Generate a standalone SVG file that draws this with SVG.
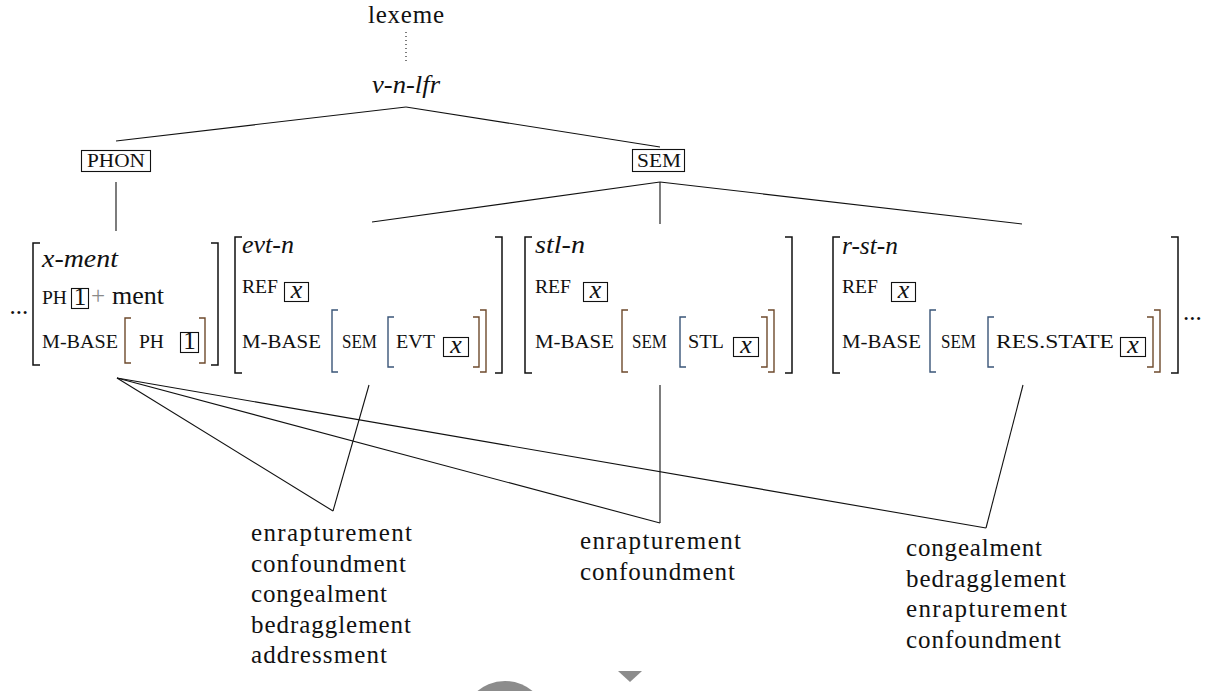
<svg xmlns="http://www.w3.org/2000/svg" width="1223" height="691" viewBox="0 0 1223 691">
<style>
text{font-family:"Liberation Serif","DejaVu Serif",serif;fill:#111}
.rm{font-size:25px}
.it{font-size:26px;font-style:italic}
.sc{font-size:18px}
.cap{font-size:19px}
.br{fill:none;stroke:#111;stroke-width:1.5}
.bb{fill:none;stroke:#3a5578;stroke-width:1.4}
.bn{fill:none;stroke:#6e4a2c;stroke-width:1.4}
.bx{fill:none;stroke:#111;stroke-width:1.1}
.ln{stroke:#111;stroke-width:1.1;fill:none}
.gr{fill:#8c8c8c}
</style>
<rect width="1223" height="691" fill="#fff"/>

<g id="connectors">
<line class="ln" x1="406" y1="32" x2="406" y2="64" stroke-dasharray="1 3"/>
<line class="ln" x1="406" y1="107" x2="116" y2="141"/>
<line class="ln" x1="406" y1="107" x2="660" y2="147"/>
<line class="ln" x1="116" y1="182" x2="116" y2="231"/>
<line class="ln" x1="660" y1="182" x2="372" y2="222"/>
<line class="ln" x1="660" y1="182" x2="660" y2="224"/>
<line class="ln" x1="660" y1="182" x2="1022" y2="224"/>
<line class="ln" x1="117" y1="378" x2="333" y2="511"/>
<line class="ln" x1="117" y1="378" x2="660" y2="523"/>
<line class="ln" x1="117" y1="378" x2="986" y2="528"/>
<line class="ln" x1="369" y1="385" x2="333" y2="511"/>
<line class="ln" x1="660" y1="385" x2="660" y2="523"/>
<line class="ln" x1="1023" y1="385" x2="986" y2="528"/>
</g>

<g id="lexeme"><text class="rm" x="368" y="23" textLength="76">lexeme</text></g>
<g id="v-n-lfr"><text class="rm" font-style="italic" x="372" y="93" textLength="68" lengthAdjust="spacingAndGlyphs">v-n-lfr</text></g>

<g id="phon">
<rect class="bx" x="81.5" y="150.5" width="69" height="21"/>
<text class="cap" x="87" y="167" textLength="58" lengthAdjust="spacingAndGlyphs">PHON</text>
</g>
<g id="sem">
<rect class="bx" x="632.5" y="149.5" width="52" height="22"/>
<text class="cap" x="637" y="166.5" textLength="44" lengthAdjust="spacingAndGlyphs">SEM</text>
</g>

<g id="avm-x-ment">
<text class="rm" x="9.5" y="314">...</text>
<path class="br" d="M40,243H33V365H40"/>
<text class="it" x="42" y="267" textLength="76" lengthAdjust="spacingAndGlyphs">x-ment</text>
<text class="sc" x="42" y="304" textLength="25" lengthAdjust="spacingAndGlyphs">PH</text>
<rect class="bx" x="71.5" y="288.5" width="17" height="20"/>
<text class="rm" x="80" y="305" text-anchor="middle">1</text>
<text class="rm" x="91" y="304" style="fill:#8a8a8a">+</text>
<text x="112" y="304" font-size="26">ment</text>
<text class="sc" x="42" y="348" textLength="76" lengthAdjust="spacingAndGlyphs">M-BASE</text>
<path class="bn" d="M131,318H125V363H131"/>
<text class="sc" x="139" y="348" textLength="25" lengthAdjust="spacingAndGlyphs">PH</text>
<rect class="bx" x="180.5" y="332.5" width="18" height="20"/>
<text class="rm" x="189.5" y="349" text-anchor="middle">1</text>
<path class="bn" d="M199,318H205V363H199"/>
<path class="br" d="M211,243H218V365H211"/>
</g>

<g id="avm-evt-n">
<path class="br" d="M242,237H235V373H242"/>
<text class="it" x="242" y="253" textLength="52" lengthAdjust="spacingAndGlyphs">evt-n</text>
<text class="sc" x="242" y="293" textLength="36" lengthAdjust="spacingAndGlyphs">REF</text>
<rect class="bx" x="284.5" y="282.5" width="24" height="19"/>
<text class="it" x="296.5" y="298" text-anchor="middle" font-size="22">x</text>
<text class="sc" x="242" y="348" textLength="79" lengthAdjust="spacingAndGlyphs">M-BASE</text>
<path class="bb" d="M338,310H332V372H338"/>
<text class="sc" x="342" y="348" textLength="35" lengthAdjust="spacingAndGlyphs">SEM</text>
<path class="bb" d="M394,317H388V367H394"/>
<text class="sc" x="396" y="348" textLength="39" lengthAdjust="spacingAndGlyphs">EVT</text>
<rect class="bx" x="443.5" y="337.5" width="25" height="19"/>
<text class="it" x="456" y="353" text-anchor="middle" font-size="22">x</text>
<path class="bn" d="M473,317H479V367H473"/>
<path class="bn" d="M480,310H486V372H480"/>
<path class="br" d="M495,237H502V373H495"/>
</g>

<g id="avm-stl-n">
<path class="br" d="M532,237H525V373H532"/>
<text class="it" x="535" y="253" textLength="50" lengthAdjust="spacingAndGlyphs">stl-n</text>
<text class="sc" x="535" y="293" textLength="36" lengthAdjust="spacingAndGlyphs">REF</text>
<rect class="bx" x="583.5" y="282.5" width="24" height="19"/>
<text class="it" x="595.5" y="298" text-anchor="middle" font-size="22">x</text>
<text class="sc" x="535" y="348" textLength="79" lengthAdjust="spacingAndGlyphs">M-BASE</text>
<path class="bn" d="M628,310H622V372H628"/>
<text class="sc" x="632" y="348" textLength="35" lengthAdjust="spacingAndGlyphs">SEM</text>
<path class="bb" d="M686,317H680V367H686"/>
<text class="sc" x="688" y="348" textLength="36" lengthAdjust="spacingAndGlyphs">STL</text>
<rect class="bx" x="733.5" y="337.5" width="25" height="19"/>
<text class="it" x="746" y="353" text-anchor="middle" font-size="22">x</text>
<path class="bn" d="M761,317H767V367H761"/>
<path class="bn" d="M768,310H774V372H768"/>
<path class="br" d="M785,237H792V373H785"/>
</g>

<g id="avm-r-st-n">
<path class="br" d="M840,237H833V373H840"/>
<text class="it" x="842" y="254" textLength="56" lengthAdjust="spacingAndGlyphs">r-st-n</text>
<text class="sc" x="842" y="293" textLength="36" lengthAdjust="spacingAndGlyphs">REF</text>
<rect class="bx" x="891.5" y="282.5" width="24" height="19"/>
<text class="it" x="903.5" y="298" text-anchor="middle" font-size="22">x</text>
<text class="sc" x="842" y="348" textLength="79" lengthAdjust="spacingAndGlyphs">M-BASE</text>
<path class="bb" d="M936,310H930V372H936"/>
<text class="sc" x="941" y="348" textLength="35" lengthAdjust="spacingAndGlyphs">SEM</text>
<path class="bb" d="M994,317H988V367H994"/>
<text class="sc" x="996" y="348" textLength="118" lengthAdjust="spacingAndGlyphs">RES.STATE</text>
<rect class="bx" x="1120.5" y="337.5" width="25" height="19"/>
<text class="it" x="1133" y="353" text-anchor="middle" font-size="22">x</text>
<path class="bn" d="M1147,317H1153V367H1147"/>
<path class="bn" d="M1154,310H1160V372H1154"/>
<path class="br" d="M1171,237H1178V373H1171"/>
<text class="rm" x="1183" y="320">...</text>
</g>

<g id="list-evt">
<text class="rm" x="251" y="541" textLength="161">enrapturement</text>
<text class="rm" x="251" y="572" textLength="155">confoundment</text>
<text class="rm" x="251" y="602" textLength="136">congealment</text>
<text class="rm" x="251" y="633" textLength="160">bedragglement</text>
<text class="rm" x="251" y="663" textLength="136">addressment</text>
</g>
<g id="list-stl">
<text class="rm" x="580" y="549" textLength="161">enrapturement</text>
<text class="rm" x="580" y="580" textLength="155">confoundment</text>
</g>
<g id="list-rst">
<text class="rm" x="906" y="556" textLength="136">congealment</text>
<text class="rm" x="906" y="587" textLength="160">bedragglement</text>
<text class="rm" x="906" y="617" textLength="161">enrapturement</text>
<text class="rm" x="906" y="648" textLength="155">confoundment</text>
</g>

<g id="overlay">
<circle class="gr" cx="505" cy="724" r="43"/>
<polygon class="gr" points="618,671 642,671 630,682"/>
</g>
</svg>
